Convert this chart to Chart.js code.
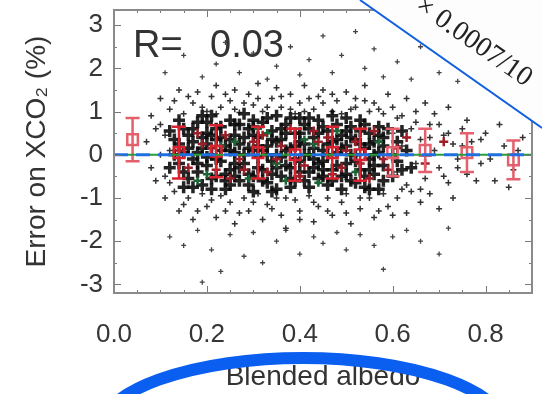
<!DOCTYPE html>
<html>
<head>
<meta charset="utf-8">
<script src="https://cdn.jsdelivr.net/npm/chart.js@4"></script>
<style>
  html, body { margin: 0; padding: 0; background: #fff; }
  #wrap { width: 542px; height: 394px; }
</style>
</head>
<body>
<div id="wrap"><canvas id="albedoChart"></canvas></div>
<script>
// axis ticks
const xTicks = [0.0, 0.2, 0.4, 0.6, 0.8];
const yTicks = [-3, -2, -1, 0, 1, 2, 3];

// binned means (red squares) with their spread
const binX = [0.04, 0.14, 0.22, 0.31, 0.39, 0.47, 0.53, 0.60, 0.67, 0.76, 0.86];
const binMean = [0.35, 0.05, 0.08, 0.05, 0.0, 0.05, 0.0, 0.05, 0.1, 0.05, -0.12];
const binErr = [0.5, 0.6, 0.6, 0.6, 0.6, 0.6, 0.6, 0.55, 0.5, 0.45, 0.45];

// zero reference line
const zeroX = [0, 0.9];
const zeroY = [0, 0];

// dense core of soundings
const coreDots = [
  [0.13,0.35],[0.14,-0.2],[0.15,0.6],[0.15,0.05],[0.16,-0.55],[0.17,0.3],[0.17,-0.1],[0.18,0.75],[0.18,-0.4],
  [0.19,0.15],[0.19,-0.7],[0.20,0.5],[0.20,-0.25],[0.21,0.9],[0.21,0.0],[0.22,-0.5],[0.22,0.35],[0.23,0.65],
  [0.23,-0.15],[0.24,0.2],[0.24,-0.8],[0.25,-0.35],[0.25,0.8],[0.26,0.45],[0.26,0.05],[0.27,-0.6],[0.27,0.25],
  [0.28,0.95],[0.28,-0.2],[0.29,0.6],[0.29,-0.45],[0.30,0.1],[0.30,-0.85],[0.31,0.4],[0.31,-0.05],[0.32,0.75],
  [0.32,-0.35],[0.33,0.2],[0.33,-0.65],[0.34,0.55],[0.34,-0.15],[0.35,0.9],[0.35,0.0],[0.36,-0.5],[0.36,0.35],
  [0.37,0.7],[0.37,-0.25],[0.38,0.15],[0.38,-0.75],[0.39,0.5],[0.39,-0.1],[0.40,0.85],[0.40,-0.4],[0.41,0.25],
  [0.41,-0.6],[0.42,0.6],[0.42,0.0],[0.43,-0.3],[0.43,0.4],[0.44,0.8],[0.44,-0.55],[0.45,0.1],[0.45,-0.15],
  [0.46,0.55],[0.46,-0.7],[0.47,0.3],[0.47,-0.35],[0.48,0.7],[0.48,0.05],[0.49,-0.5],[0.49,0.45],[0.50,-0.2],
  [0.50,0.2],[0.51,0.65],[0.51,-0.6],[0.52,0.0],[0.52,0.35],[0.53,-0.35],[0.53,0.8],[0.54,0.15],[0.54,-0.75],
  [0.55,0.5],[0.55,-0.1],[0.56,0.3],[0.56,-0.45],[0.57,0.65],[0.57,0.05],[0.58,-0.25],[0.58,0.4],
  [0.14,0.25],[0.15,-0.4],[0.16,0.45],[0.17,-0.75],[0.18,0.05],[0.19,0.4],[0.20,-0.05],[0.21,-0.55],[0.22,0.6],
  [0.23,0.1],[0.24,-0.45],[0.25,0.35],[0.26,-0.2],[0.27,0.7],[0.28,0.0],[0.29,-0.7],[0.30,0.45],[0.31,-0.3],
  [0.32,0.1],[0.33,0.85],[0.34,-0.45],[0.35,0.3],[0.36,-0.05],[0.37,0.5],[0.38,-0.55],[0.39,0.2],[0.40,-0.15],
  [0.41,0.7],[0.42,-0.4],[0.43,0.15],[0.44,-0.2],[0.45,0.65],[0.46,0.0],[0.47,-0.6],[0.48,0.35],[0.49,0.15],
  [0.50,-0.45],[0.51,0.4],[0.52,-0.15],[0.53,0.55],[0.54,-0.5],[0.55,0.25],[0.56,-0.25],[0.57,0.45],[0.58,-0.6],
  [0.20,0.75],[0.25,-0.7],[0.30,0.8],[0.35,-0.8],[0.40,0.5],[0.45,-0.5],[0.50,0.85],[0.55,-0.8],[0.60,0.0],
  [0.61,0.3],[0.62,-0.35],
  [0.12,-0.3],[0.12,0.55],[0.13,0.0],[0.14,0.8],[0.15,-0.75],[0.16,0.15],[0.17,0.6],[0.18,-0.2],[0.19,0.9],
  [0.20,0.25],[0.21,-0.8],[0.21,0.45],[0.22,-0.1],[0.23,0.4],[0.24,-0.6],[0.25,0.1],[0.26,0.7],[0.26,-0.5],
  [0.27,-0.3],[0.28,0.4],[0.29,0.15],[0.30,-0.5],[0.30,0.65],[0.31,0.2],[0.32,-0.6],[0.33,0.0],[0.34,0.35],
  [0.34,-0.85],[0.35,-0.3],[0.36,0.6],[0.37,0.1],[0.38,-0.3],[0.38,0.85],[0.39,-0.6],[0.40,0.3],[0.41,0.0],
  [0.42,-0.75],[0.42,0.85],[0.43,-0.1],[0.44,0.5],[0.45,-0.35],[0.46,0.25],[0.47,0.9],[0.48,-0.25],[0.49,-0.8],
  [0.50,0.55],[0.51,0.0],[0.52,-0.65],[0.53,0.25],[0.54,0.7],[0.55,-0.35],[0.56,0.0],[0.57,-0.8],[0.58,0.2],
  [0.59,0.6],[0.60,-0.5],[0.61,-0.15],[0.62,0.55],[0.63,0.1],[0.64,-0.3]
];

// coloured soundings mixed into the core
const redDots = [
  [0.16,-0.3],[0.19,0.25],[0.22,-0.35],[0.24,0.45],[0.27,-0.1],[0.30,0.3],[0.33,-0.4],[0.36,0.2],[0.38,0.6],
  [0.41,-0.25],[0.44,0.3],[0.47,-0.45],[0.50,0.1],[0.53,-0.2],[0.56,0.55],[0.59,-0.35],[0.63,0.4],[0.67,-0.2],
  [0.71,0.3],[0.18,0.5],[0.25,-0.55],[0.32,0.45],[0.40,-0.5],[0.46,0.4],[0.52,0.3],[0.58,-0.1],
  [0.14,0.1],[0.21,0.15],[0.28,-0.35],[0.35,-0.1],[0.43,0.55],[0.49,-0.3],[0.55,-0.55],[0.61,0.15]
];
const greenDots = [
  [0.20,-0.45],[0.26,0.3],[0.29,-0.55],[0.33,0.5],[0.37,-0.6],[0.41,0.35],[0.44,-0.65],[0.48,0.55],
  [0.52,-0.4],[0.57,0.3],[0.18,-0.6],[0.31,0.6],[0.23,0.2],[0.35,-0.2],[0.43,0.25]
];

// sparser halo round the core
const haloDots = [
  [0.08,0.9],[0.10,1.3],[0.12,1.05],[0.14,1.5],[0.15,0.95],[0.17,1.2],[0.18,1.45],[0.20,1.0],[0.21,1.35],
  [0.22,1.6],[0.23,1.1],[0.25,1.25],[0.26,1.5],[0.27,0.98],[0.29,1.4],[0.30,1.15],[0.31,1.65],[0.32,1.0],
  [0.34,1.3],[0.35,1.55],[0.36,1.1],[0.38,1.4],[0.39,0.95],[0.40,1.2],[0.41,1.6],[0.43,1.05],[0.44,1.35],
  [0.45,1.5],[0.47,1.0],[0.48,1.25],[0.50,1.45],[0.51,1.05],[0.52,1.3],[0.54,1.6],[0.55,1.0],[0.56,1.2],
  [0.58,0.95],[0.59,1.4],[0.60,1.1],[0.62,0.9],[0.63,1.3],[0.65,1.0],[0.67,1.2],[0.69,0.95],[0.72,1.1],
  [0.09,-0.6],[0.11,-1.0],[0.13,-0.85],[0.14,-1.3],[0.16,-1.0],[0.17,-1.5],[0.19,-0.9],[0.20,-1.2],[0.22,-1.45],
  [0.23,-0.95],[0.25,-1.1],[0.26,-1.6],[0.28,-1.0],[0.29,-1.3],[0.31,-0.9],[0.32,-1.5],[0.33,-1.15],[0.35,-1.0],
  [0.36,-1.4],[0.37,-1.7],[0.39,-1.05],[0.40,-1.3],[0.42,-0.95],[0.43,-1.55],[0.44,-1.2],[0.46,-1.0],[0.47,-1.4],
  [0.49,-1.1],[0.50,-0.9],[0.51,-1.6],[0.53,-1.25],[0.55,-1.0],[0.56,-1.45],[0.58,-0.9],[0.59,-1.2],[0.61,-1.0],
  [0.63,-1.35],[0.64,-0.85],[0.66,-1.1],[0.68,-0.9],[0.70,-1.25],[0.73,-1.0],
  [0.60,0.5],[0.61,-0.4],[0.62,0.2],[0.63,-0.7],[0.64,0.6],[0.65,-0.2],[0.66,0.35],[0.67,-0.55],[0.68,0.7],
  [0.69,0.1],[0.70,-0.3],[0.71,0.45],[0.72,-0.65],[0.73,0.25],[0.74,-0.1],[0.75,0.6],[0.76,-0.45],[0.77,0.3],
  [0.79,-0.2],[0.80,0.5],[0.82,-0.6],[0.84,0.2],[0.86,-0.35],[0.88,0.4],
  [0.07,0.3],[0.08,-0.3],[0.09,0.6],[0.10,0.0],[0.11,-0.5],[0.11,0.45],[0.12,0.1],
  [0.10,0.7],[0.12,-0.65],[0.13,1.25],[0.15,-1.15],[0.16,1.35],[0.18,-1.3],[0.19,1.1],[0.21,-1.05],[0.22,0.95],
  [0.24,1.4],[0.24,-1.3],[0.26,1.05],[0.27,-1.35],[0.28,1.2],[0.30,-1.1],[0.31,1.3],[0.33,1.1],[0.34,-1.25],
  [0.36,1.35],[0.37,-1.0],[0.38,1.05],[0.40,-1.5],[0.41,1.0],[0.42,1.3],[0.43,-1.1],[0.45,1.2],[0.46,-1.3],
  [0.47,1.4],[0.49,0.95],[0.50,-1.35],[0.52,1.1],[0.53,-1.0],[0.54,1.25],[0.57,-1.3],[0.57,1.05],[0.60,-1.4],
  [0.61,0.85],[0.62,-0.8],[0.65,0.75],[0.66,-0.8],[0.68,0.4],[0.70,0.7],[0.71,-0.5],[0.72,0.5],[0.74,-0.3],
  [0.75,0.2],[0.76,0.8],[0.78,-0.6],[0.79,0.35],[0.81,-0.1],[0.83,0.7],[0.85,-0.75],[0.87,0.1]
];

// outliers far from zero
const outlierDots = [
  [0.11,1.9],[0.15,2.3],[0.19,1.8],[0.22,2.1],[0.24,2.6],[0.27,1.9],[0.30,2.35],[0.33,1.75],[0.35,2.05],
  [0.38,2.5],[0.40,1.85],[0.42,2.2],[0.45,2.75],[0.47,1.9],[0.49,2.3],[0.52,2.85],[0.54,2.0],[0.56,2.45],
  [0.58,1.8],[0.61,2.15],[0.64,1.75],[0.66,2.5],[0.70,1.9],[0.74,1.7],[0.78,2.1],
  [0.12,-1.9],[0.15,-2.1],[0.18,-1.75],[0.19,-2.95],[0.21,-2.2],[0.23,-2.7],[0.25,-1.85],[0.28,-2.35],
  [0.30,-1.8],[0.32,-2.5],[0.35,-2.0],[0.37,-1.75],[0.40,-2.3],[0.43,-1.9],[0.45,-2.05],[0.48,-1.8],
  [0.50,-2.2],[0.53,-1.85],[0.56,-2.1],[0.58,-2.65],[0.60,-1.9],[0.63,-1.75],[0.66,-2.0],[0.70,-2.3],[0.72,-1.7]
];

const FONT = '"Liberation Sans", Arial, sans-serif';
const toPts = list => list.map(p => ({ x: p[0], y: p[1] }));
// bins outside the dense cloud look paler in the original
const binColor = i => (binX[i] < 0.1 || binX[i] > 0.58) ? '#e4606c' : '#d8222f';

// frame, inward ticks, error bars, R label and the pasted-over annotations
const plotDecor = {
  id: 'plotDecor',
  afterDatasetDraw(chart, args) {
    if (args.index !== 2) return;
    const ctx = chart.ctx;
    const xs = chart.scales.x, ys = chart.scales.y;
    ctx.save();
    ctx.lineWidth = 2.5;
    binX.forEach((bx, i) => {
      const px = xs.getPixelForValue(bx);
      const top = ys.getPixelForValue(binMean[i] + binErr[i]);
      const bot = ys.getPixelForValue(binMean[i] - binErr[i]);
      ctx.strokeStyle = binColor(i);
      ctx.beginPath();
      ctx.moveTo(px, top); ctx.lineTo(px, bot);
      ctx.moveTo(px - 7, top); ctx.lineTo(px + 7, top);
      ctx.moveTo(px - 7, bot); ctx.lineTo(px + 7, bot);
      ctx.stroke();
    });
    ctx.restore();
  },
  afterDraw(chart) {
    const ctx = chart.ctx;
    const a = chart.chartArea;
    const xs = chart.scales.x, ys = chart.scales.y;
    ctx.save();

    // ticks pointing inwards
    ctx.strokeStyle = '#777';
    ctx.lineWidth = 1;
    ctx.beginPath();
    for (let v = 0; v <= 0.9001; v += 0.05) {
      const px = Math.round(xs.getPixelForValue(v)) + 0.5;
      const len = xTicks.some(t => Math.abs(t - v) < 1e-6) ? 7 : 3;
      ctx.moveTo(px, a.bottom); ctx.lineTo(px, a.bottom - len);
      ctx.moveTo(px, a.top); ctx.lineTo(px, a.top + len);
    }
    for (let v = -3; v <= 3; v += 0.5) {
      const py = Math.round(ys.getPixelForValue(v)) + 0.5;
      const len = Number.isInteger(v) ? 7 : 3;
      ctx.moveTo(a.left, py); ctx.lineTo(a.left + len, py);
      ctx.moveTo(a.right, py); ctx.lineTo(a.right - len, py);
    }
    ctx.stroke();

    // frame
    ctx.strokeStyle = '#8a8a8a';
    ctx.lineWidth = 2;
    ctx.strokeRect(a.left, a.top, a.right - a.left, a.bottom - a.top);

    // correlation label
    ctx.fillStyle = '#333';
    ctx.font = '38px ' + FONT;
    ctx.textBaseline = 'alphabetic';
    ctx.fillText('R=', a.left + 19, a.top + 47);
    ctx.fillText('0.03', a.left + 96, a.top + 47);

    // cut corner from the page on top
    const W = chart.width;
    ctx.fillStyle = '#fdfdfd';
    ctx.beginPath();
    ctx.moveTo(360, 0); ctx.lineTo(W, 128); ctx.lineTo(W, 0); ctx.closePath();
    ctx.fill();
    ctx.strokeStyle = '#1060e0';
    ctx.lineWidth = 2;
    ctx.beginPath();
    ctx.moveTo(360, 0); ctx.lineTo(W, 128);
    ctx.stroke();
    ctx.save();
    ctx.translate(414, 9);
    ctx.rotate(Math.atan2(128, W - 360));
    ctx.fillStyle = '#222';
    ctx.font = '28px "Liberation Serif", serif';
    ctx.fillText('\u00d7 0.0007/10', 0, 0);
    ctx.restore();

    // blue marker ring at the bottom
    ctx.strokeStyle = '#0a5ef0';
    ctx.lineWidth = 12;
    ctx.beginPath();
    ctx.ellipse(303, 432, 204, 74, 0, Math.PI, 2 * Math.PI);
    ctx.stroke();

    ctx.restore();
  }
};

const ctx = document.getElementById('albedoChart');

new Chart(ctx, {
  type: 'scatter',
  data: {
    datasets: [
      {
        type: 'line', label: 'zero', order: 0,
        data: zeroX.map((x, i) => ({ x, y: zeroY[i] })),
        borderColor: '#1f6fe0', borderWidth: 3, borderDash: [14, 8],
        pointRadius: 0, fill: false
      },
      {
        type: 'line', label: 'fit', order: 1,
        data: zeroX.map((x, i) => ({ x, y: zeroY[i] })),
        borderColor: '#2a9a40', borderWidth: 2, borderDash: [8, 14], borderDashOffset: 8,
        pointRadius: 0, fill: false
      },
      {
        label: 'bins', order: 2,
        data: binX.map((x, i) => ({ x, y: binMean[i] })),
        pointStyle: 'rect', pointRadius: 7.5,
        borderColor: c => binColor(c.dataIndex), backgroundColor: 'rgba(0,0,0,0)', borderWidth: 2.5
      },
      {
        label: 'red', order: 3, data: toPts(redDots),
        pointStyle: 'cross', pointRadius: 4.5, borderWidth: 2.5, borderColor: '#9a1f28'
      },
      {
        label: 'green', order: 4, data: toPts(greenDots),
        pointStyle: 'cross', pointRadius: 4, borderWidth: 2.5, borderColor: '#1d6436'
      },
      {
        label: 'core', order: 5, data: toPts(coreDots),
        pointStyle: 'cross', pointRadius: 6, borderWidth: 3.5, borderColor: 'rgba(12,12,12,0.9)'
      },
      {
        label: 'halo', order: 6, data: toPts(haloDots),
        pointStyle: 'cross', pointRadius: 3, borderWidth: 1.5, borderColor: '#333'
      },
      {
        label: 'outliers', order: 7, data: toPts(outlierDots),
        pointStyle: 'cross', pointRadius: 2.5, borderWidth: 1.3, borderColor: '#444'
      }
    ]
  },
  options: {
    responsive: true,
    maintainAspectRatio: false,
    animation: false,
    devicePixelRatio: 1,
    events: [],
    layout: { padding: { top: 6, right: 5, left: 0, bottom: 0 } },
    plugins: {
      legend: { display: false },
      tooltip: { enabled: false }
    },
    scales: {
      x: {
        type: 'linear', min: 0, max: 0.9,
        afterBuildTicks: s => { s.ticks = xTicks.map(v => ({ value: v })); },
        afterFit: s => { s.height = 101; s.paddingLeft = 0; s.paddingRight = 0; },
        grid: { display: false, drawTicks: false },
        border: { display: false },
        ticks: {
          padding: 26, color: '#363636', font: { family: FONT, size: 26 },
          callback: v => v.toFixed(1), maxRotation: 0
        },
        title: {
          display: true, text: 'Blended albedo', color: '#333',
          font: { family: FONT, size: 28 }, padding: { top: 0, bottom: 0 }
        }
      },
      y: {
        type: 'linear', min: -3.2, max: 3.35,
        afterBuildTicks: s => { s.ticks = yTicks.map(v => ({ value: v })); },
        afterFit: s => { s.width = 114; s.paddingTop = 0; s.paddingBottom = 0; },
        grid: { display: false, drawTicks: false },
        border: { display: false },
        ticks: {
          padding: 11, color: '#363636', font: { family: FONT, size: 26 },
          callback: v => String(v)
        },
        title: {
          display: true, text: 'Error on XCO\u2082 (%)', color: '#333',
          font: { family: FONT, size: 28 }, padding: { top: 20, bottom: 0 }
        }
      }
    }
  },
  plugins: [plotDecor]
});
</script>
</body>
</html>
